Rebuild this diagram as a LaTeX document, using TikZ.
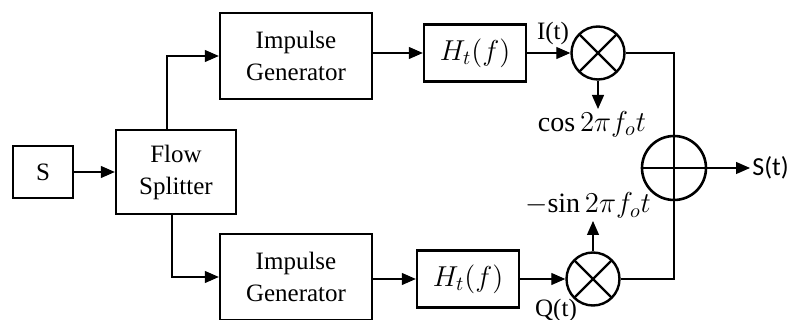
\documentclass[tikz,border=0pt]{standalone}
\usepackage{fontspec}
\setmainfont{Liberation Serif}
\newfontfamily\calibfont{Carlito}
\usepackage{amsmath}
\usetikzlibrary{arrows.meta, positioning, calc}
\tikzset{
  blk/.style={
    draw, line width=1.2pt, minimum width=76pt, minimum height=43pt,
    font=\fontsize{12.5}{16}\selectfont, align=center, inner sep=1pt
  },
  srcbox/.style={blk, minimum width=30pt, minimum height=26pt},
  splitbox/.style={blk, minimum width=60pt, minimum height=42pt},
  filt/.style={blk, minimum width=51pt, minimum height=28.5pt, font=\fontsize{14}{16}\selectfont},
  mixer/.style={
    circle, draw, line width=1.2pt, minimum size=26.5pt, inner sep=0pt,
    path picture={
      \draw[line width=1.2pt]
        ([shift={(45:20pt)}]path picture bounding box.center) -- ([shift={(225:20pt)}]path picture bounding box.center)
        ([shift={(135:20pt)}]path picture bounding box.center) -- ([shift={(315:20pt)}]path picture bounding box.center);
    }
  },
  adder/.style={
    circle, draw, line width=1.3pt, minimum size=32pt, inner sep=0pt,
    path picture={
      \draw[line width=1.2pt]
        ([xshift=-20pt]path picture bounding box.center) -- ([xshift=20pt]path picture bounding box.center)
        ([yshift=-20pt]path picture bounding box.center) -- ([yshift=20pt]path picture bounding box.center);
    }
  },
  sig/.style={-{Triangle[length=7pt,width=6pt]}, line width=0.6pt},
  wire/.style={line width=0.6pt},
  tag/.style={font=\fontsize{12.5}{14}\selectfont, inner sep=1pt},
  carrier/.style={font=\fontsize{14}{16}\selectfont, inner sep=1pt}
}
\begin{document}
\begin{tikzpicture}[x=0.5pt, y=-0.5pt]
  \useasboundingbox (0,0) rectangle (788,320);
  % blocks
  \node[srcbox] (src) at (43,172) {S};
  \node[splitbox] (split) at (176,172) {Flow\\Splitter};
  \node[blk] (igtop) at (296,56) {Impulse\\Generator};
  \node[blk] (igbot) at (296,277) {Impulse\\Generator};
  \node[filt] (httop) at (475,53) {$H_t(f)$};
  \node[filt] (htbot) at (468,279) {$H_t(f)$};
  \node[mixer] (mxtop) at (598,53) {};
  \node[mixer] (mxbot) at (593,279) {};
  \node[adder] (sum) at (674,168) {};
  % labels
  \node[tag] (it) at (553,33) {I(t)};
  \node[tag] (qt) at (556,310) {Q(t)};
  \node[carrier, anchor=north] (cosl) at (592,109) {$\cos 2\pi f_o t$};
  \node[carrier, anchor=south] (sinl) at (588,221) {$-\!\sin 2\pi f_o t$};
  \node[font=\calibfont\fontsize{13}{15}\selectfont, anchor=west, inner sep=1pt] (out) at (750,168) {S(t)};
  % connections
  \draw[sig] (src) -- (split);
  \draw[sig] ([xshift=-4.5pt]split.north) |- (igtop.west);
  \draw[sig] ([xshift=-2pt]split.south) |- (igbot.west);
  \draw[sig] (igtop.east |- httop) -- (httop.west);
  \draw[sig] (igbot.east |- htbot) -- (htbot.west);
  \draw[sig] (httop.east) -- (mxtop.west);
  \draw[sig] (htbot.east) -- (mxbot.west);
  \draw[sig] (mxtop.south) -- (mxtop.south |- cosl.north);
  \draw[sig] (mxbot.north) -- (mxbot.north |- sinl.south);
  \draw[wire] (mxtop.east) -| (sum.north);
  \draw[wire] (mxbot.east) -| (sum.south);
  \draw[sig] (sum.east) -- (out.west);
\end{tikzpicture}
\end{document}
